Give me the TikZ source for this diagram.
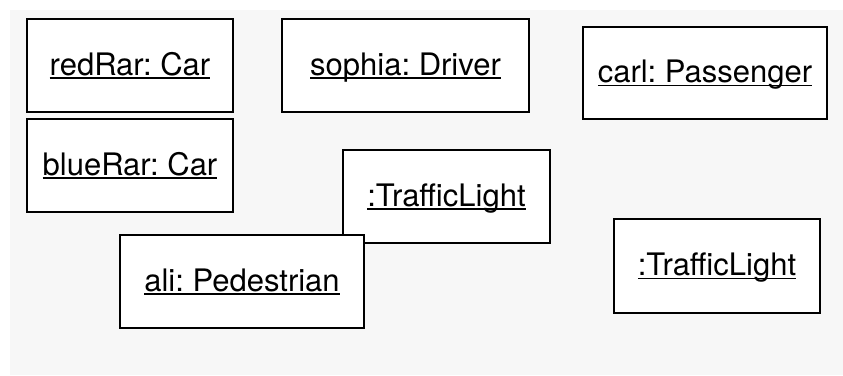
\documentclass[tikz,border=0pt]{standalone}
\usepackage{fontspec}
\setmainfont{TeX Gyre Heros}
\frenchspacing

% underlined object name, line close under the baseline
\newcommand{\objname}[1]{%
  \setbox0\hbox{#1}\rlap{\copy0}\rule[-3.6pt]{\wd0}{1.6pt}}

\begin{document}
\begin{tikzpicture}[x=1pt, y=-1pt,
    object/.style={draw, fill=white, line width=1.2pt, minimum height=93pt,
      inner sep=0pt, text height=22pt, text depth=3pt,
      font=\fontsize{31}{37}\selectfont}]

  % --- Hintergrund ---
  \definecolor{bg}{HTML}{F7F7F7}
  \useasboundingbox (0,0) rectangle (843,375);
  \fill[bg] (10,10) rectangle (843,375);

  % --- Objekte ---
  \node[object, minimum width=206pt] (redRar)  at (130,65.5)  {\objname{redRar: Car}};
  \node[object, minimum width=247pt] (sophia)  at (405.5,65.5) {\objname{sophia: Driver}};
  \node[object, minimum width=244pt, minimum height=92pt] (carl) at (705,73) {\objname{carl: Passenger}};
  \node[object, minimum width=206pt] (blueRar) at (130,165.5) {\objname{blueRar: Car}};

  % Ampel in der Mitte liegt unter ali
  \node[object, minimum width=207pt] (light1)  at (446.5,196.5) {\objname{:TrafficLight}};
  \node[object, minimum width=244pt] (ali)     at (242,281.5) {\objname{ali: Pedestrian}};
  \node[object, minimum width=206pt, minimum height=94pt] (light2) at (717,266) {\objname{:TrafficLight}};

\end{tikzpicture}
\end{document}
